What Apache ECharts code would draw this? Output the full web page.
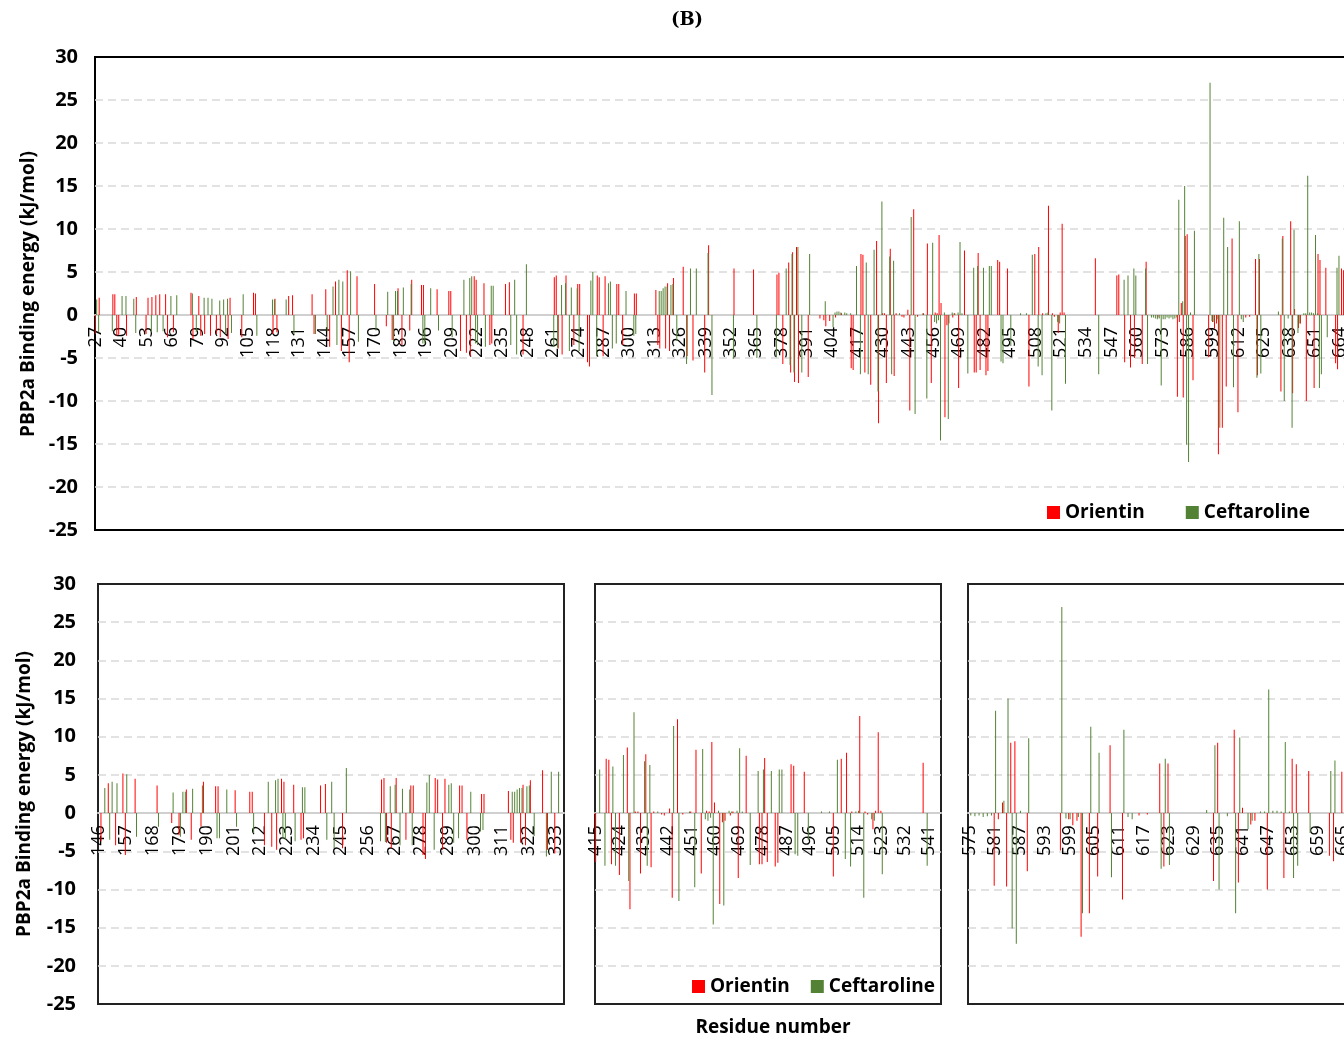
<!DOCTYPE html>
<html>
<head>
<meta charset="utf-8">
<script src="https://cdn.jsdelivr.net/npm/echarts@6/dist/echarts.min.js"></script>
<style>
  html, body { margin: 0; padding: 0; overflow: hidden; background: #fff; }
  #chart { width: 1360px; height: 1041px; }
</style>
</head>
<body>
<div id="chart"></div>
<script>
/*
 * PBP2a per-residue binding energy (kJ/mol), Orientin vs Ceftaroline.
 * Top panel: whole sequence; bottom row: three zoomed windows of the same data.
 * Values are sparse [residue, energy] pairs; residues not listed are ~0.
 */
var fullRange = [27, 668];
var zoomRanges = [[146, 336], [415, 545], [575, 668]];
var labelSteps = [13, 11, 9, 6];
var yMin = -25, yMax = 30;

// residues 27-145
var orientinN = [[27,-2.2],[29,2.0],[36,2.4],[37,2.4],[38,-2.4],[39,-2.3],[43,-2.4],[48,2.1],[53,-2.2],[54,2.0],[56,2.1],[58,2.3],[60,2.4],[63,2.4],[64,-2.6],[67,-2.0],[76,2.6],[77,-2.8],[80,2.2],[81,-2.4],[83,-2.2],[86,-2.4],[89,-2.2],[91,-2.6],[95,-2.8],[96,2.0],[102,-2.6],[108,2.6],[109,2.5],[118,-2.2],[119,1.9],[120,-2.0],[126,2.2],[128,2.3],[138,2.4],[139,-2.2],[145,3.0]];
var ceftarolineN = [[27,1.8],[28,-2.0],[35,-1.9],[40,2.2],[42,2.2],[46,1.9],[47,-2.1],[55,-2.0],[58,-2.0],[61,-1.9],[65,2.2],[68,2.3],[76,2.5],[78,-2.0],[82,2.0],[84,2.0],[86,1.9],[90,1.7],[92,1.8],[93,-2.2],[94,1.9],[96,-2.1],[102,2.4],[109,-2.4],[117,1.8],[118,1.8],[124,1.8],[128,-2.2],[139,-2.2],[145,-1.9]];

// residues 146-336
var orientinB = [[147,-3.7],[150,3.9],[153,-4.2],[156,5.2],[157,-5.5],[161,4.5],[170,3.6],[176,-1.3],[179,-2.9],[182,3.1],[184,-3.5],[188,-1.8],[189,4.1],[194,3.5],[195,3.5],[202,3.0],[208,2.8],[209,2.8],[214,-4.2],[217,-4.4],[219,-4.8],[221,4.5],[222,4.1],[226,3.7],[229,-3.5],[230,-3.3],[237,3.6],[239,3.8],[246,-4.6],[262,4.4],[263,4.6],[264,-3.9],[266,-4.6],[268,4.6],[272,-3.5],[274,3.6],[275,3.6],[279,-5.5],[280,-6.0],[284,4.6],[285,4.4],[287,-4.8],[288,4.5],[294,3.6],[295,3.6],[297,-3.5],[303,2.5],[304,2.5],[314,2.9],[315,-3.5],[316,-3.9],[319,-3.9],[320,3.7],[321,-4.2],[323,4.3],[328,5.6],[330,-4.8],[333,-5.3]];
var ceftarolineB = [[148,3.3],[150,-3.5],[151,4.1],[153,3.9],[157,5.1],[161,-3.1],[170,-1.8],[176,2.7],[179,-3.1],[180,2.8],[181,2.8],[184,3.2],[188,3.6],[194,-3.3],[195,-3.3],[198,3.1],[202,-1.8],[209,-2.6],[215,4.1],[218,4.3],[219,4.5],[221,-3.3],[222,-3.5],[226,-3.7],[229,3.4],[230,3.4],[239,-3.5],[241,4.1],[242,-4.6],[247,5.9],[261,-3.7],[263,-3.8],[265,3.5],[267,3.7],[269,-4.2],[270,3.2],[273,3.1],[274,-4.2],[280,4.0],[281,5.0],[283,-4.8],[289,3.7],[290,3.9],[291,-3.9],[293,-3.3],[298,2.8],[302,-2.4],[303,-2.2],[315,2.8],[316,2.8],[317,3.1],[318,3.3],[319,3.3],[321,3.5],[322,3.6],[324,-3.0],[329,-5.7],[331,5.4],[334,5.4]];

// residues 337-414
var orientinC = [[339,-6.7],[341,8.1],[354,5.4],[364,5.3],[376,4.7],[377,4.9],[379,-5.7],[382,6.1],[383,-6.7],[384,7.3],[385,-7.8],[386,7.9],[387,-7.9],[392,-7.2],[398,-0.4],[400,-0.6],[401,-1.3],[403,-0.7],[406,-0.3],[409,0.2],[414,-6.2]];
var ceftarolineC = [[340,7.2],[342,-9.3],[353,-5.1],[365,-5.0],[375,-4.9],[380,5.4],[382,-5.8],[383,7.1],[384,-6.7],[386,7.9],[388,-6.7],[392,7.1],[400,1.6],[404,-1.4],[405,0.3],[406,0.4],[407,0.4],[408,0.3],[410,0.3],[411,0.2],[413,0.2]];

// residues 415-545
var orientinD = [[415,-6.4],[419,7.1],[420,7.0],[421,-6.7],[424,-8.1],[427,8.6],[428,-12.6],[430,0.2],[431,0.2],[432,-7.9],[434,7.7],[436,-7.1],[437,0.2],[440,-0.2],[441,-0.3],[443,0.6],[444,-11.1],[446,12.3],[448,-0.2],[451,0.2],[453,8.3],[455,-7.9],[457,0.3],[458,0.2],[459,9.3],[460,1.4],[462,-11.9],[463,-1.2],[464,-1.0],[466,-0.3],[467,0.2],[469,-8.5],[472,7.5],[477,-6.7],[478,-6.7],[479,7.2],[480,-6.4],[483,-7.0],[484,-6.5],[489,6.4],[490,6.2],[494,5.4],[505,-8.3],[508,7.1],[510,7.9],[512,0.2],[515,12.7],[517,0.2],[518,-0.2],[520,-2.1],[521,0.3],[522,10.6],[523,0.3],[539,6.6]];
var ceftarolineD = [[416,5.7],[418,-6.9],[421,6.1],[422,-6.9],[425,7.6],[427,-8.9],[429,13.2],[433,6.8],[434,-6.9],[435,6.3],[438,0.2],[444,11.4],[446,-11.5],[450,0.2],[452,-9.7],[455,8.4],[456,-0.8],[457,-1.0],[458,-0.6],[459,-14.6],[461,0.3],[463,-12.1],[465,0.3],[466,0.2],[468,0.3],[469,8.5],[470,0.2],[473,-6.8],[476,5.5],[478,5.7],[481,5.5],[484,5.7],[485,5.7],[490,-5.4],[491,-5.6],[495,-3.6],[500,0.2],[503,0.2],[506,7.0],[509,-6.0],[511,-7.0],[513,0.2],[514,0.3],[516,-11.1],[519,-0.8],[520,-1.0],[523,-8.0],[540,-6.9]];

// residues 546-574
var orientinE = [[550,4.6],[551,4.7],[554,-5.5],[557,-6.1],[559,-5.0],[563,-5.7],[565,6.2],[571,-0.3]];
var ceftarolineE = [[553,4.1],[555,4.6],[558,5.4],[559,4.6],[564,5.4],[565,-5.7],[567,-0.3],[568,-0.3],[569,-0.4],[570,-0.5],[571,-0.4],[572,-8.2],[573,-0.5],[574,-0.5]];

// residues 575-668
var orientinF = [[581,-9.5],[582,-0.8],[583,1.4],[584,-9.6],[585,9.2],[586,9.4],[589,-7.6],[597,-4.9],[599,-0.8],[600,-1.6],[601,-1.0],[602,-16.2],[604,-13.1],[606,-8.3],[609,8.9],[612,-11.3],[616,-0.3],[618,-0.2],[621,6.5],[622,-7.0],[623,6.5],[634,-8.9],[635,9.2],[639,10.9],[640,-9.1],[641,0.7],[643,-1.5],[644,-1.0],[647,-10.0],[651,-8.5],[653,7.1],[654,6.4],[657,5.5],[662,-5.6],[663,-6.3],[665,5.4],[666,5.2]];
var ceftarolineF = [[575,-0.3],[576,-0.4],[577,-0.3],[578,-0.5],[579,-0.4],[580,-0.3],[581,13.4],[583,1.6],[584,15.0],[585,-15.1],[586,-17.1],[587,0.3],[589,9.8],[597,27.0],[598,-0.7],[599,-0.8],[601,-0.5],[602,-13.1],[604,11.3],[606,7.9],[609,-8.4],[612,10.9],[613,-0.5],[614,-0.8],[621,-7.3],[622,7.1],[623,-6.8],[632,0.4],[634,8.9],[635,-10.0],[637,-0.4],[639,-13.1],[640,9.9],[642,-2.1],[643,-1.0],[645,0.2],[646,0.2],[647,16.2],[648,0.3],[649,0.3],[650,0.2],[651,9.3],[652,0.2],[653,-8.5],[654,-6.9],[657,-2.6],[662,5.5],[663,6.9],[666,-6.0]];

var orientin = [].concat(orientinN, orientinB, orientinC, orientinD, orientinE, orientinF);
var ceftaroline = [].concat(ceftarolineN, ceftarolineB, ceftarolineC, ceftarolineD, ceftarolineE, ceftarolineF);

var RED = '#ff0000';
var GREEN = '#548235';
var FONT = '"Open Sans", "DejaVu Sans", sans-serif';

function residueList(from, to) {
  var out = [];
  for (var r = from; r <= to; r++) out.push(String(r));
  return out;
}

function valuesFor(pairs, from, to) {
  var lookup = {};
  pairs.forEach(function (p) { lookup[p[0]] = p[1]; });
  var out = [];
  for (var r = from; r <= to; r++) out.push(lookup[r] !== undefined ? lookup[r] : 0);
  return out;
}

var panels = [
  { range: fullRange,     grid: { left: 95,  top: 57,  width: 1254, height: 473 }, yLabels: true,  border: '#000' },
  { range: zoomRanges[0], grid: { left: 98,  top: 584, width: 466,  height: 420 }, yLabels: true,  border: '#222' },
  { range: zoomRanges[1], grid: { left: 595, top: 584, width: 346,  height: 420 }, yLabels: false, border: '#222' },
  { range: zoomRanges[2], grid: { left: 968, top: 584, width: 389,  height: 420 }, yLabels: false, border: '#222' }
];

var grids = [], xAxes = [], yAxes = [], series = [];
panels.forEach(function (p, i) {
  var from = p.range[0], to = p.range[1];
  // the category axis sits on the zero line, not on the frame bottom
  var zeroLift = p.grid.height * (0 - yMin) / (yMax - yMin);
  grids.push({
    left: p.grid.left, top: p.grid.top, width: p.grid.width, height: p.grid.height,
    show: true, borderColor: p.border, borderWidth: 2, backgroundColor: 'transparent'
  });
  xAxes.push({
    type: 'category', gridIndex: i, data: residueList(from, to), position: 'bottom', offset: -zeroLift,
    axisLine: { onZero: false, lineStyle: { color: '#d0d0d0', width: 2 } },
    axisTick: { show: false },
    axisLabel: { interval: labelSteps[i] - 1, rotate: 90, margin: 12, fontSize: 18, fontFamily: FONT, color: '#000' },
    splitLine: { show: false }
  });
  yAxes.push({
    type: 'value', gridIndex: i, min: yMin, max: yMax, interval: 5,
    axisLine: { show: false }, axisTick: { show: false },
    axisLabel: { show: p.yLabels, margin: i === 0 ? 17 : 22, fontSize: 20, fontWeight: 'bold', fontFamily: FONT, color: '#000' },
    splitLine: { showMinLine: false, showMaxLine: false, lineStyle: { color: '#d9d9d9', width: 1.5, type: [8, 5] } }
  });
  series.push({
    name: 'Orientin', type: 'bar', xAxisIndex: i, yAxisIndex: i,
    data: valuesFor(orientin, from, to), barWidth: 1, barGap: '40%',
    itemStyle: { color: RED }, silent: true
  });
  series.push({
    name: 'Ceftaroline', type: 'bar', xAxisIndex: i, yAxisIndex: i,
    data: valuesFor(ceftaroline, from, to), barWidth: 1, barGap: '40%',
    itemStyle: { color: GREEN }, silent: true
  });
});

var legendText = { fontSize: 19, fontWeight: 'bold', fontFamily: FONT, color: '#000' };

var option = {
  animation: false,
  backgroundColor: '#fff',
  grid: grids,
  xAxis: xAxes,
  yAxis: yAxes,
  series: series,
  legend: [
    { data: ['Orientin', 'Ceftaroline'], left: 1042, top: 498, icon: 'rect', itemWidth: 13, itemHeight: 13, itemGap: 41, textStyle: legendText, selectedMode: false },
    { data: ['Orientin', 'Ceftaroline'], left: 687, top: 972, icon: 'rect', itemWidth: 13, itemHeight: 13, itemGap: 21, textStyle: legendText, selectedMode: false }
  ],
  graphic: [
    { type: 'text', x: 687, y: 20, style: { text: '(B)', font: 'bold 18px "DejaVu Serif", serif', fill: '#000', align: 'center', verticalAlign: 'middle', textAlign: 'center', textVerticalAlign: 'middle' } },
    { type: 'text', x: 29, y: 294, rotation: Math.PI / 2, style: { text: 'PBP2a Binding energy (kJ/mol)', font: 'bold 19px ' + FONT, fill: '#000', align: 'center', verticalAlign: 'middle', textAlign: 'center', textVerticalAlign: 'middle' } },
    { type: 'text', x: 25, y: 794, rotation: Math.PI / 2, style: { text: 'PBP2a Binding energy (kJ/mol)', font: 'bold 19px ' + FONT, fill: '#000', align: 'center', verticalAlign: 'middle', textAlign: 'center', textVerticalAlign: 'middle' } },
    { type: 'text', x: 773, y: 1028, style: { text: 'Residue number', font: 'bold 19px ' + FONT, fill: '#000', align: 'center', verticalAlign: 'middle', textAlign: 'center', textVerticalAlign: 'middle' } }
  ]
};

var chart = echarts.init(document.getElementById('chart'));
chart.setOption(option);
</script>
</body>
</html>
